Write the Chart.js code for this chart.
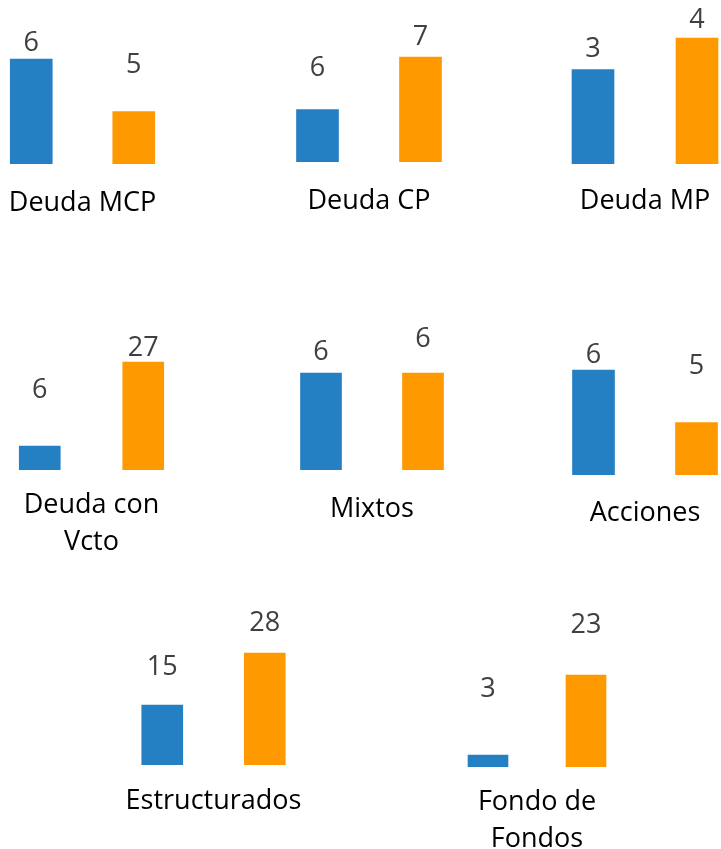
<!DOCTYPE html>
<html>
<head>
<meta charset="utf-8">
<script src="https://cdn.jsdelivr.net/npm/chart.js@4.4.1/dist/chart.umd.min.js"></script>
<style>
  html, body { margin: 0; padding: 0; background: #fff; }
  body { position: relative; width: 721px; height: 849px; overflow: hidden; }
  canvas { position: absolute; }
</style>
</head>
<body>
<script>
// Eight small two-bar panels (blue vs orange), one per fund category.
const categories = [['Deuda MCP'], ['Deuda CP'], ['Deuda MP'], ['Deuda con', 'Vcto'],
                    ['Mixtos'], ['Acciones'], ['Estructurados'], ['Fondo de', 'Fondos']];
const blueValues   = [6, 6, 3, 6, 6, 6, 15, 3];
const orangeValues = [5, 7, 4, 27, 6, 5, 28, 23];

// Each panel kept its own automatic value axis in the original.
const axisMin = [4, 5, 0, 0, 0, 4, 0, 0];
const axisMax = [7.05, 8.05, 5.08, 40, 9.9, 7.05, 40, 40];

// Panel placement on the page.
const panelLeft  = [-20, 266, 541, -12, 270, 542, 111, 439];
const panelBase  = [164, 162, 164, 470, 470, 475, 765, 767];
const panelWidth = [205, 206, 208, 207, 204, 206, 205, 196];
const barWidth   = [42, 42, 42, 41, 41, 42, 41, 40];
// gap between the bar baseline and the category caption
const captionPad = [20, 20, 18, 16, 20, 19, 17, 16];
// distance from bar top to the centre of its value label (labels were hand-placed)
const labelGap   = [[16, 46], [41, 20], [20, 18], [56, 14], [21, 34], [15, 56], [38, 30], [66, 50]];

const BLUE = '#2580c3';
const ORANGE = '#ff9900';
const PLOT_H = 160;
const AXIS_H = 100;
const CAT_FONT = 27;
const LINE_H = CAT_FONT * 1.4;

const valueLabels = {
    id: 'valueLabels',
    afterDatasetsDraw(chart, args, opts) {
        const ctx = chart.ctx;
        const ds = chart.data.datasets[0];
        ctx.save();
        ctx.font = '27px "Open Sans"';
        ctx.fillStyle = '#404040';
        ctx.textAlign = 'center';
        ctx.textBaseline = 'middle';
        chart.getDatasetMeta(0).data.forEach((bar, i) => {
            ctx.fillText(String(ds.data[i]), bar.x, bar.y - opts.gaps[i]);
        });
        ctx.restore();
    }
};

categories.forEach((cat, p) => {
    const cv = document.createElement('canvas');
    cv.width = panelWidth[p];
    cv.height = PLOT_H + AXIS_H;
    cv.style.left = panelLeft[p] + 'px';
    cv.style.top = (panelBase[p] - PLOT_H) + 'px';
    document.body.appendChild(cv);

    const padTop = captionPad[p];
    const padBottom = AXIS_H - cat.length * LINE_H - padTop;

    new Chart(cv.getContext('2d'), {
        type: 'bar',
        data: {
            labels: ['', ''],
            datasets: [{
                data: [blueValues[p], orangeValues[p]],
                backgroundColor: [BLUE, ORANGE],
                borderWidth: 0,
                barThickness: barWidth[p]
            }]
        },
        options: {
            responsive: false,
            animation: false,
            layout: { padding: 0 },
            plugins: {
                legend: { display: false },
                tooltip: { enabled: false },
                valueLabels: { gaps: labelGap[p] }
            },
            scales: {
                x: {
                    grid: { display: false, drawTicks: false },
                    border: { display: false },
                    ticks: { display: false, padding: 0 },
                    title: {
                        display: true,
                        text: cat,
                        color: '#000',
                        font: { family: '"Open Sans"', size: CAT_FONT, lineHeight: 1.4 },
                        padding: { top: padTop, bottom: padBottom }
                    }
                },
                y: { display: false, min: axisMin[p], max: axisMax[p] }
            }
        },
        plugins: [valueLabels]
    });
});
</script>
</body>
</html>
